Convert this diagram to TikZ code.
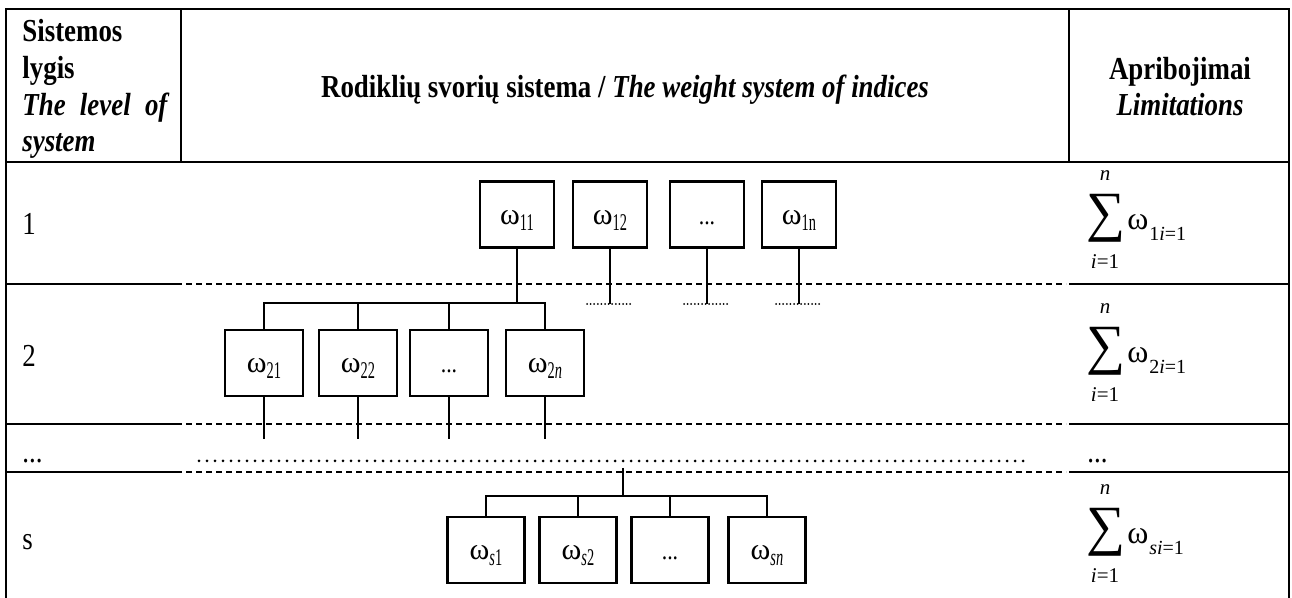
\documentclass[tikz,border=0pt]{standalone}
\usepackage{graphicx}
\usepackage{fontspec}
\setmainfont{Liberation Serif}[FakeStretch=0.84]
\newfontfamily\omfont{Liberation Serif}
\newfontfamily\subfont{Liberation Serif}[FakeStretch=0.6]
\newfontfamily\sumfont{Liberation Serif}
\newcommand\omg{{\omfont\fontsize{15pt}{15pt}\selectfont ω}}
\newcommand\omgb{{\omfont\fontsize{16pt}{16pt}\selectfont ω}}
\newcommand\wsub[1]{\omg{\subfont\fontsize{12pt}{12pt}\selectfont\raisebox{-3pt}{#1}}}
\newcommand\boxdots{{\fontsize{13pt}{13pt}\selectfont ...}}
\newcommand\sumblock[3]{%
  \node[inner sep=0pt] (#1S) at (1106,#2) {\resizebox*{19.5pt}{24pt}{\sumfont ∑}};
  \node[smalltxt, anchor=base] (#1N) at (1105,#2-37) {\textit{n}};
  \node[smalltxt, anchor=base] (#1L) at (1105,#2+51) {\textit{i}=1};
  \node[inner sep=0pt, anchor=base west] (#1W) at (1127,#2+12) {\omgb};
  \node[inner sep=0pt, anchor=base west, font=\sumfont\fontsize{10pt}{10pt}\selectfont] (#1B) at ([yshift=-5.5pt]#1W.base east) {#3};
}
\tikzset{
  border/.style={line width=1pt},
  rule/.style={line width=0.8pt},
  dashrule/.style={line width=0.55pt, dash pattern=on 3pt off 2pt},
  boldash/.style={line width=1pt, dash pattern=on 3pt off 2pt},
  wbox/.style={draw, line width=1.2pt, minimum height=33pt, inner sep=0pt, text height=10pt, text depth=0pt},
  link/.style={line width=1pt},
  dotrow/.style={line width=1.5pt, line cap=round, dash pattern=on 0pt off 4pt},
  shortdots/.style={line width=1pt, line cap=round, dash pattern=on 0pt off 1.8pt},
  txt/.style={inner sep=0pt, anchor=base west, font=\fontsize{16pt}{19pt}\selectfont},
  ctxt/.style={inner sep=0pt, anchor=base, font=\fontsize{16pt}{19pt}\selectfont},
  smalltxt/.style={inner sep=0pt, font=\sumfont\fontsize{10.5pt}{10.5pt}\selectfont},
}
\begin{document}
\begin{tikzpicture}[x=0.5pt,y=-0.5pt]
\useasboundingbox (0,0) rectangle (1292,598);
% table frame
\draw[border] (6,598) -- (6,9) -- (1289,9) -- (1289,598);
\draw[rule] (181,9) -- (181,162);
\draw[rule] (1069,9) -- (1069,162);
\draw[rule] (6,162) -- (1289,162);
\foreach \yy in {284,424} {
  \draw[rule] (6,\yy) -- (182,\yy);
  \draw[dashrule] (186,\yy) -- (1066,\yy);
  \draw[rule] (1069,\yy) -- (1289,\yy);
}
\draw[rule] (6,472) -- (182,472);
\draw[boldash] (186,472) -- (1066,472);
\draw[rule] (1069,472) -- (1289,472);
\draw[dotrow] (199,461) -- (1023,461);

% header
\node[txt] (h1) at (22,42) {\bfseries Sistemos};
\node[txt] (h2) at (22,79) {\bfseries lygis};
\node[txt] (h3) at (22,116) {\bfseries\itshape\makebox[72.5pt][s]{The level of}};
\node[txt] (h4) at (22,152) {\bfseries\itshape system};
\node[ctxt] (hm) at (625,98) {\bfseries Rodiklių svorių sistema / \itshape The weight system of indices};
\node[ctxt] (hr1) at (1180,80) {\bfseries Apribojimai};
\node[ctxt] (hr2) at (1180,116) {\bfseries\itshape Limitations};

% row labels
\node[txt] (r1) at (22,235) {1};
\node[txt] (r2) at (22,367) {2};
\node[txt] (r3) at (22,463) {...};
\node[txt] (r4) at (22,550) {s};
\node[txt] (r3r) at (1087,463) {...};

% level 1 boxes
\node[wbox, minimum width=37pt] (w11) at (517,214.5) {\wsub{11}};
\node[wbox, minimum width=37pt] (w12) at (610,214.5) {\wsub{12}};
\node[wbox, minimum width=37pt] (w1d) at (707,214.5) {\boxdots};
\node[wbox, minimum width=37pt] (w1n) at (799,214.5) {\wsub{1n}};

% level 2 boxes
\node[wbox, minimum width=39pt] (w21) at (264,363) {\wsub{21}};
\node[wbox, minimum width=39pt] (w22) at (358,363) {\wsub{22}};
\node[wbox, minimum width=39pt] (w2d) at (449,363) {\boxdots};
\node[wbox, minimum width=39pt] (w2n) at (545,363) {\wsub{2\textit{n}}};

% level s boxes
\node[wbox, minimum width=38.5pt] (ws1) at (486,550) {\wsub{\textit{s}1}};
\node[wbox, minimum width=38.5pt] (ws2) at (578,550) {\wsub{\textit{s}2}};
\node[wbox, minimum width=38.5pt] (wsd) at (670,550) {\boxdots};
\node[wbox, minimum width=38.5pt] (wsn) at (767,550) {\wsub{\textit{sn}}};

% connectors level 1 -> 2
\coordinate (b2) at (0,303);
\coordinate (d1) at (0,304);
\coordinate (d2) at (0,439);
\draw[link] (w11.south) -- (w11.south |- b2);
\draw[link] (w21.north) -- (w21.north |- b2) -- (w2n.north |- b2) -- (w2n.north);
\draw[link] (w22.north) -- (w22.north |- b2);
\draw[link] (w2d.north) -- (w2d.north |- b2);
\foreach \n in {w12,w1d,w1n} {
  \path (\n.south |- d1) coordinate (p\n);
  \draw[link] (\n.south) -- (p\n);
  \draw[shortdots] ([xshift=-11.5pt]p\n) -- ([xshift=11.5pt]p\n);
}
\foreach \n in {w21,w22,w2d,w2n} {
  \draw[link] (\n.south) -- (\n.south |- d2);
}

% connectors to level s
\coordinate (bs) at (0,496);
\coordinate (ts) at (623,468);
\draw[link] (ts) -- (ts |- bs);
\draw[link] (ws1.north) -- (ws1.north |- bs) -- (wsn.north |- bs) -- (wsn.north);
\draw[link] (ws2.north) -- (ws2.north |- bs);
\draw[link] (wsd.north) -- (wsd.north |- bs);

% limitation sums
\sumblock{a}{218}{1\textit{i}=1}
\sumblock{b}{351}{2\textit{i}=1}
\sumblock{c}{532}{\textit{si}=1}
\end{tikzpicture}
\end{document}
